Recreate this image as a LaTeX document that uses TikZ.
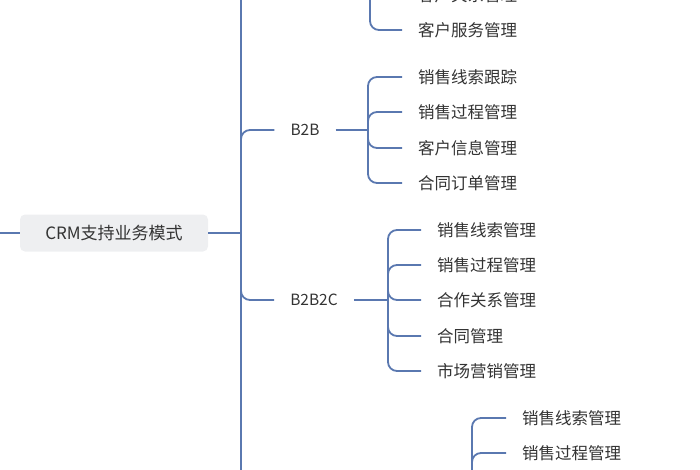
\documentclass[tikz,border=0pt]{standalone}
\usepackage{fontspec}
\setmainfont{Noto Sans CJK SC}
\usetikzlibrary{positioning}
\definecolor{linkblue}{HTML}{5A78B0}
\definecolor{rootgray}{HTML}{EEEFF1}
\tikzset{
  link/.style={draw=linkblue,line width=1.8pt,rounded corners=9pt},
  leaf/.style={anchor=west,inner sep=0pt,font=\fontsize{16.5}{18}\selectfont,text=black!80},
  mode/.style={inner xsep=16pt,font=\fontsize{15.5}{18}\selectfont,text=black!80},
}
\begin{document}
\begin{tikzpicture}[x=1pt,y=-1pt]
\useasboundingbox (0,0) rectangle (700,470);
\node[fill=rootgray,rounded corners=5pt,minimum width=188pt,minimum height=37pt,
      font=\fontsize{17}{18}\selectfont,text=black!80] (root) at (114,233) {CRM支持业务模式};
\coordinate (lin) at (0,233);
\coordinate (tr) at (241,233);
\coordinate (trtop) at (241,-10);
\coordinate (trbot) at (241,480);
\draw[link] (lin) -- (root.west);
\draw[link] (root.east) -- (tr);
\draw[link] (trtop) -- (trbot);
% modes
\node[mode] (b2b) at (305,130) {B2B};
\node[mode] (b2b2c) at (314,300) {B2B2C};
\draw[link] (241,200) |- (b2b.west);
\draw[link] (241,260) |- (b2b2c.west);
% top group
\coordinate (topk) at (370,-60);
\foreach \t/\y [count=\i] in {客户关系管理/-5,客户服务管理/30}{
  \node[leaf] (top\i) at (418,\y) {\t};
  \draw[link] (topk) |- ([xshift=-16pt]top\i.west);
}
% B2B group
\coordinate (b2bk) at (368,130);
\draw[link] (b2b.east) -- (b2bk);
\foreach \t/\y [count=\i] in {销售线索跟踪/77,销售过程管理/112,客户信息管理/148,合同订单管理/183}{
  \node[leaf] (b2b\i) at (418,\y) {\t};
  \draw[link] (b2bk) |- ([xshift=-16pt]b2b\i.west);
}
% B2B2C group
\coordinate (b2b2ck) at (388,300);
\draw[link] (b2b2c.east) -- (b2b2ck);
\foreach \t/\y [count=\i] in {销售线索管理/230,销售过程管理/265,合作关系管理/300,合同管理/336,市场营销管理/371}{
  \node[leaf] (bbc\i) at (437,\y) {\t};
  \draw[link] (b2b2ck) |- ([xshift=-16pt]bbc\i.west);
}
% bottom group
\coordinate (botk) at (472,520);
\foreach \t/\y [count=\i] in {销售线索管理/418,销售过程管理/453}{
  \node[leaf] (bot\i) at (522,\y) {\t};
  \draw[link] (botk) |- ([xshift=-16pt]bot\i.west);
}
\end{tikzpicture}
\end{document}
